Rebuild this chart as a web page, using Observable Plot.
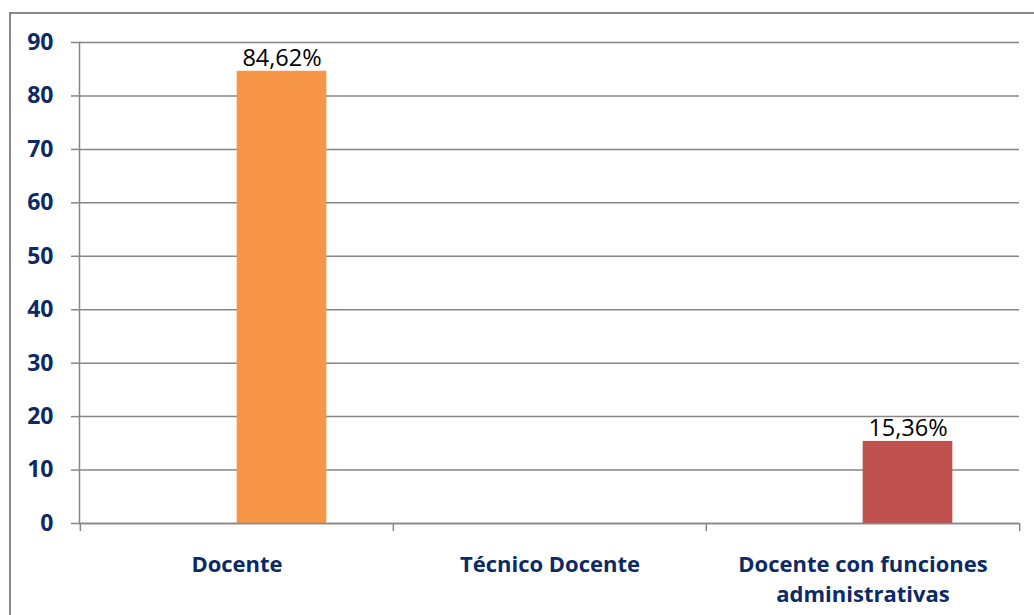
<!DOCTYPE html>
<html>
<head>
<meta charset="utf-8">
<script src="https://cdn.jsdelivr.net/npm/d3@7"></script>
<script src="https://cdn.jsdelivr.net/npm/@observablehq/plot@0.6"></script>
<style>
  html, body { margin: 0; padding: 0; background: #fff; overflow: hidden; }
  #wrap { position: relative; width: 1034px; height: 615px; }
  #border { position: absolute; left: 9px; top: 12px; width: 1100px; height: 700px;
            border: 2px solid #898989; box-sizing: border-box; pointer-events: none; }
  #chart svg { display: block; }
</style>
</head>
<body>
<div id="wrap">
  <div id="border"></div>
  <div id="chart"></div>
</div>
<script>
const categories = ["Docente", "Técnico Docente", "Docente con funciones administrativas"];
const values = [84.62, 0, 15.36];
const barColors = ["#F79646", "#F79646", "#C0504D"];
const axisLabels = ["Docente", "Técnico Docente", "Docente con funciones\nadministrativas"];
const yTicks = [0, 10, 20, 30, 40, 50, 60, 70, 80, 90];

const data = categories.map((c, i) => ({category: c, value: values[i], color: barColors[i], label: axisLabels[i]}));
const labelOf = new Map(data.map(d => [d.category, d.label]));

const W = 1034, H = 615, ML = 79, MR = 15, MT = 42, MB = 92;
const bw = (W - ML - MR) / categories.length;
const barW = 90;
const navy = "#0c2a66";
const gray = "#868686";

const chart = Plot.plot({
  width: W, height: H,
  marginLeft: ML, marginRight: MR, marginTop: MT, marginBottom: MB,
  style: {fontFamily: "'Open Sans', sans-serif", background: "transparent", overflow: "visible"},
  x: {domain: categories, padding: 0},
  y: {domain: [0, 90]},
  marks: [
    Plot.gridY(yTicks, {stroke: gray, strokeOpacity: 1, strokeWidth: 1.5}),
    Plot.axisY(yTicks, {tickSize: 8, tickPadding: 18, stroke: gray, strokeWidth: 1.5, fill: navy,
      fontSize: 23, fontWeight: "bold", label: null, tickFormat: d => d}),
    Plot.ruleX(categories, {x: d => d, y1: 0, y2: -1.5, dx: -bw / 2, stroke: gray, strokeWidth: 1.5}),
    Plot.ruleX([categories[categories.length - 1]], {x: d => d, y1: 0, y2: -1.5, dx: bw / 2, stroke: gray, strokeWidth: 1.5}),
    Plot.frame({anchor: "left", stroke: gray, strokeWidth: 1.5}),
    Plot.barY(data.filter(d => d.value > 0), {x: "category", y: "value", fill: "color",
      insetLeft: bw / 2, insetRight: bw / 2 - barW}),
    Plot.ruleY([0], {stroke: gray, strokeWidth: 1.5}),
    Plot.text(data.filter(d => d.value > 0), {x: "category", y: "value",
      text: d => d.value.toFixed(2).replace(".", ",") + "%",
      dx: barW / 2, dy: -5, lineAnchor: "bottom", fontSize: 23.5, fill: "#000"}),
    Plot.axisX({tickSize: 0, tickPadding: 27, fill: navy, fontSize: 22, fontWeight: "bold",
      lineHeight: 1.36, label: null, tickFormat: d => labelOf.get(d)})
  ]
});
document.getElementById("chart").appendChild(chart);
</script>
</body>
</html>
